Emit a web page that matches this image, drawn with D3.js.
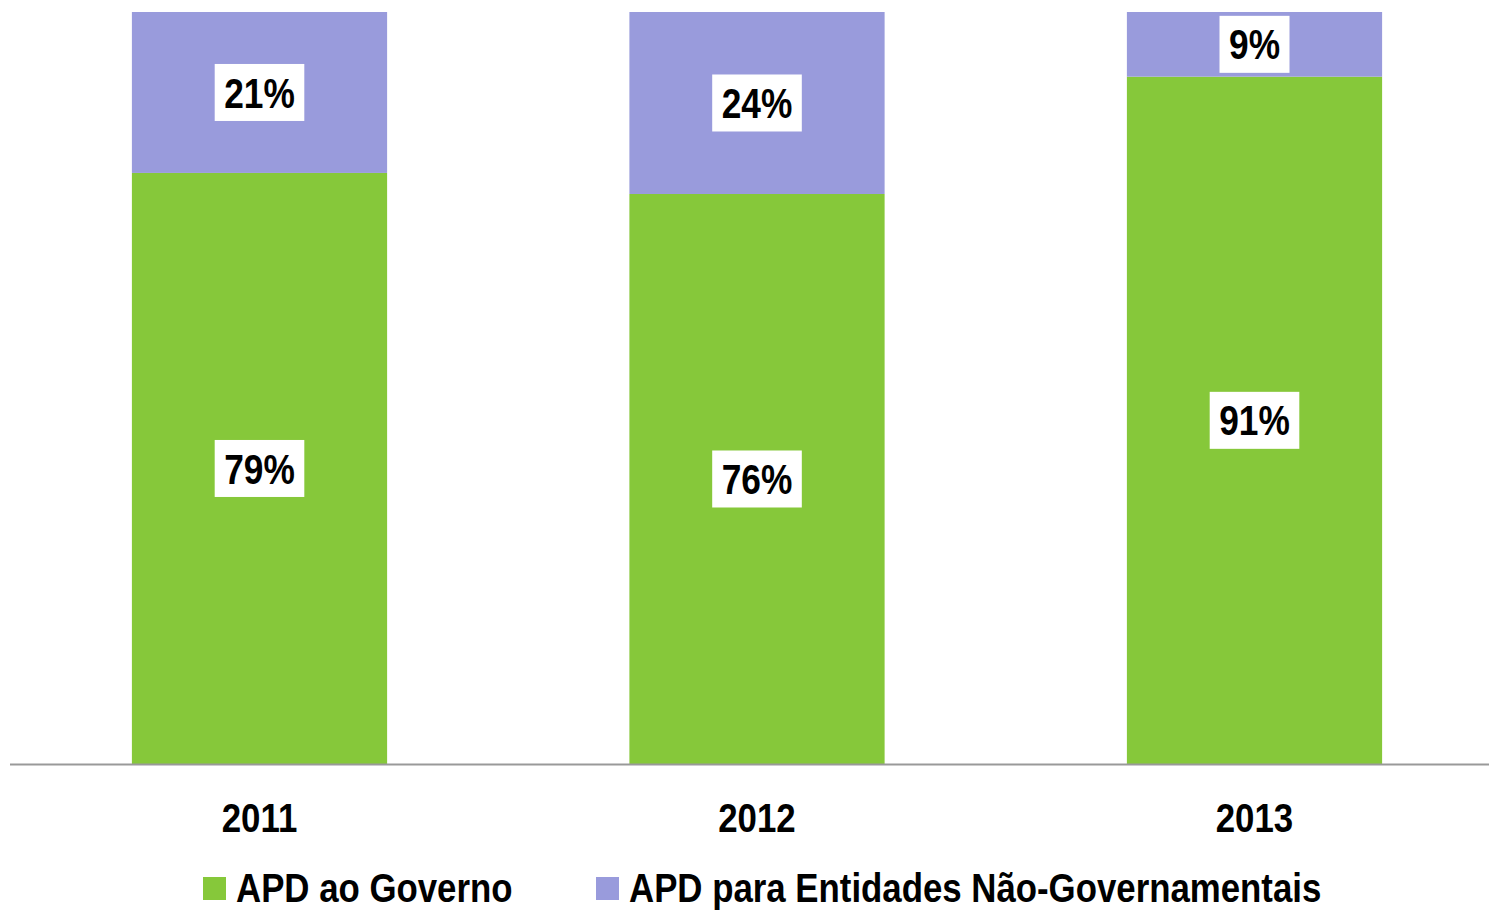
<!DOCTYPE html>
<html>
<head>
<meta charset="utf-8">
<script src="https://cdn.jsdelivr.net/npm/d3@7"></script>
<style>
  body { margin: 0; background: #fff; }
  text { font-family: "Liberation Sans Narrow", "Arial Narrow", "Liberation Sans", Arial, sans-serif; font-weight: bold; }
</style>
</head>
<body>
<div id="chart"></div>
<script>
var years = ["2011", "2012", "2013"];
var governo = [0.786, 0.758, 0.914];
var ngo = [0.214, 0.242, 0.086];
var seriesNames = ["APD ao Governo", "APD para Entidades Não-Governamentais"];
var seriesColors = ["#86c83a", "#999bdc"];

var width = 1489, height = 911;
var baseY = 764, topY = 12;

// no narrow font installed: squeeze the regular bold face
var condense = function(sel, factor) {
  sel.each(function() {
    var len = this.getComputedTextLength();
    d3.select(this)
      .attr("data-w", len * factor)
      .attr("textLength", len * factor)
      .attr("lengthAdjust", "spacingAndGlyphs");
  });
};

var svg = d3.select("#chart")
  .append("svg")
  .attr("width", width)
  .attr("height", height);

var x = d3.scaleBand()
  .domain(years)
  .range([10.75, 1503.25])
  .paddingInner(0.487)
  .paddingOuter(0.2435);

var y = d3.scaleLinear()
  .domain([0, 1])
  .range([baseY, topY]);

var rows = years.map(function(yr, i) {
  return { year: yr, governo: governo[i], ngo: ngo[i] };
});
var stacked = d3.stack().keys(["governo", "ngo"])(rows);

var layers = svg.selectAll("g.layer")
  .data(stacked)
  .enter()
  .append("g")
  .attr("class", "layer");

layers.selectAll("rect")
  .data(function(d) { return d; })
  .enter()
  .append("rect")
  .attr("x", function(d) { return x(d.data.year); })
  .attr("y", function(d) { return y(d[1]); })
  .attr("width", x.bandwidth())
  .attr("height", function(d) { return y(d[0]) - y(d[1]); })
  .attr("fill", function() { return seriesColors[d3.select(this.parentNode).datum().index]; });

// value labels in white boxes
layers.each(function(layer) {
  var g = d3.select(this);
  layer.forEach(function(d) {
    var cx = x(d.data.year) + x.bandwidth() / 2;
    var cy = (y(d[0]) + y(d[1])) / 2;
    var lbl = g.append("g").attr("transform", "translate(" + cx + "," + cy + ")");
    var t = lbl.append("text")
      .attr("text-anchor", "middle")
      .attr("dy", "0.36em")
      .attr("font-size", 42)
      .attr("fill", "#000")
      .text(Math.round((d[1] - d[0]) * 100) + "%");
    condense(t, 0.84);
    var w = +t.attr("data-w");
    lbl.insert("rect", "text")
      .attr("x", -w / 2 - 9.5)
      .attr("y", -28.5)
      .attr("width", w + 19)
      .attr("height", 57)
      .attr("fill", "#fff");
  });
});

// baseline axis
svg.append("line")
  .attr("x1", 10)
  .attr("x2", width)
  .attr("y1", baseY + 0.5)
  .attr("y2", baseY + 0.5)
  .attr("stroke", "#999")
  .attr("stroke-width", 2);

svg.selectAll("text.year")
  .data(years)
  .enter()
  .append("text")
  .attr("class", "year")
  .attr("x", function(d) { return x(d) + x.bandwidth() / 2; })
  .attr("y", 832)
  .attr("text-anchor", "middle")
  .attr("font-size", 41)
  .attr("fill", "#000")
  .text(function(d) { return d; })
  .call(condense, 0.85);

// legend
var legendX = [203, 596];
var legend = svg.selectAll("g.legend")
  .data(seriesNames)
  .enter()
  .append("g")
  .attr("class", "legend")
  .attr("transform", function(d, i) { return "translate(" + legendX[i] + ",877)"; });

legend.append("rect")
  .attr("width", 23)
  .attr("height", 23)
  .attr("fill", function(d, i) { return seriesColors[i]; });

legend.append("text")
  .attr("x", 33)
  .attr("y", 25)
  .attr("font-size", 40)
  .attr("fill", "#000")
  .text(function(d) { return d; })
  .call(condense, 0.87);
</script>
</body>
</html>
